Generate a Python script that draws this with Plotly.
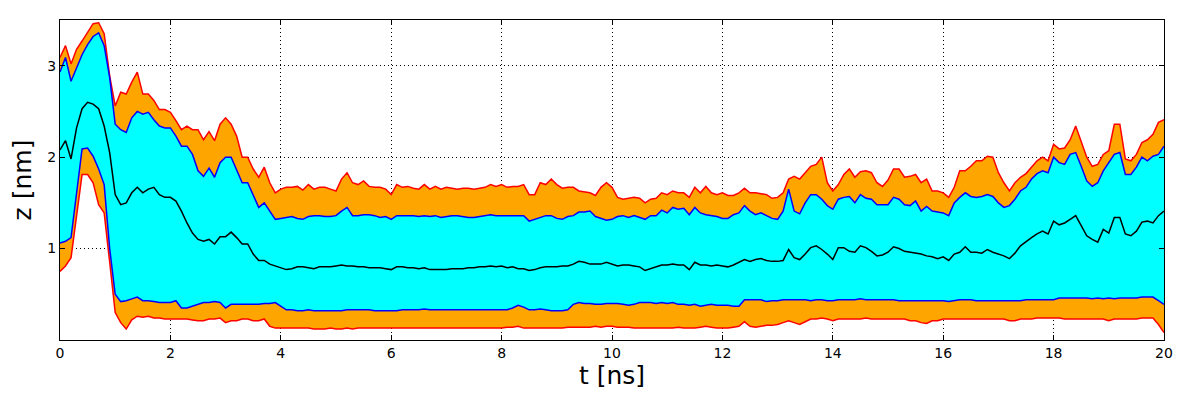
import plotly.graph_objects as go

# upper red (outer band top)
red_hi = [3.09, 3.22, 3.02, 3.18, 3.27, 3.36, 3.46, 3.47, 3.35, 2.89,
          2.56, 2.71, 2.69, 2.82, 2.93, 2.69, 2.69, 2.62, 2.52, 2.52,
          2.49, 2.40, 2.30, 2.34, 2.30, 2.30, 2.19, 2.28, 2.18, 2.36,
          2.43, 2.36, 2.23, 2.00, 2.00, 1.87, 1.78, 1.89, 1.72, 1.61,
          1.65, 1.67, 1.67, 1.68, 1.64, 1.70, 1.65, 1.67, 1.67, 1.65,
          1.63, 1.76, 1.83, 1.72, 1.70, 1.74, 1.68, 1.67, 1.67, 1.65,
          1.59, 1.70, 1.67, 1.68, 1.66, 1.65, 1.70, 1.65, 1.68, 1.65,
          1.67, 1.66, 1.65, 1.66, 1.66, 1.65, 1.66, 1.67, 1.70, 1.68,
          1.70, 1.67, 1.68, 1.68, 1.70, 1.59, 1.59, 1.72, 1.70, 1.76,
          1.70, 1.66, 1.67, 1.67, 1.63, 1.62, 1.61, 1.58, 1.67, 1.72,
          1.67, 1.56, 1.54, 1.55, 1.56, 1.55, 1.50, 1.54, 1.55, 1.61,
          1.59, 1.63, 1.61, 1.61, 1.56, 1.67, 1.61, 1.68, 1.61, 1.59,
          1.61, 1.58, 1.58, 1.61, 1.66, 1.61, 1.61, 1.60, 1.59, 1.55,
          1.56, 1.61, 1.76, 1.79, 1.76, 1.83, 1.90, 1.92, 2.00, 1.72,
          1.63, 1.70, 1.81, 1.87, 1.78, 1.84, 1.85, 1.83, 1.72, 1.68,
          1.75, 1.87, 1.87, 1.78, 1.79, 1.81, 1.72, 1.76, 1.63, 1.63,
          1.61, 1.56, 1.67, 1.85, 1.85, 1.90, 1.96, 1.96, 2.01, 2.00,
          1.83, 1.72, 1.63, 1.72, 1.78, 1.82, 1.89, 1.96, 2.00, 1.96,
          2.14, 2.09, 2.10, 2.19, 2.34, 2.18, 2.00, 1.90, 1.92, 2.03,
          2.07, 2.36, 2.36, 1.98, 1.96, 2.03, 2.16, 2.19, 2.25, 2.38,
          2.41]

# upper blue (inner band top)
blue_hi = [2.93, 3.09, 2.83, 2.98, 3.12, 3.23, 3.32, 3.36, 3.22, 2.87,
           2.36, 2.30, 2.27, 2.43, 2.50, 2.47, 2.49, 2.41, 2.34, 2.32,
           2.32, 2.23, 2.12, 2.12, 2.03, 1.85, 1.79, 1.88, 1.78, 1.94,
           2.00, 2.00, 1.85, 1.72, 1.72, 1.59, 1.45, 1.50, 1.41, 1.32,
           1.33, 1.34, 1.35, 1.33, 1.32, 1.35, 1.36, 1.36, 1.35, 1.35,
           1.36, 1.41, 1.45, 1.36, 1.36, 1.37, 1.37, 1.36, 1.34, 1.35,
           1.32, 1.36, 1.36, 1.36, 1.36, 1.35, 1.36, 1.35, 1.36, 1.34,
           1.35, 1.36, 1.36, 1.35, 1.34, 1.34, 1.35, 1.36, 1.37, 1.36,
           1.36, 1.36, 1.36, 1.36, 1.36, 1.30, 1.32, 1.34, 1.36, 1.36,
           1.33, 1.32, 1.35, 1.36, 1.40, 1.40, 1.41, 1.35, 1.33, 1.31,
           1.32, 1.35, 1.36, 1.34, 1.36, 1.34, 1.32, 1.36, 1.36, 1.42,
           1.39, 1.45, 1.43, 1.44, 1.37, 1.45, 1.39, 1.37, 1.36, 1.35,
           1.33, 1.33, 1.37, 1.39, 1.47, 1.41, 1.37, 1.39, 1.36, 1.33,
           1.32, 1.41, 1.65, 1.41, 1.38, 1.50, 1.59, 1.59, 1.54, 1.47,
           1.43, 1.54, 1.56, 1.57, 1.50, 1.59, 1.55, 1.54, 1.48, 1.48,
           1.48, 1.56, 1.54, 1.48, 1.47, 1.52, 1.41, 1.46, 1.41, 1.40,
           1.39, 1.36, 1.50, 1.56, 1.61, 1.57, 1.56, 1.57, 1.59, 1.57,
           1.50, 1.45, 1.47, 1.54, 1.63, 1.67, 1.76, 1.82, 1.85, 1.83,
           2.00, 1.94, 1.92, 2.03, 2.05, 1.90, 1.74, 1.68, 1.72, 1.85,
           1.94, 2.03, 2.05, 1.81, 1.81, 1.89, 2.00, 1.96, 2.01, 2.03,
           2.12]

# median (black)
median = [2.08, 2.18, 1.98, 2.32, 2.53, 2.60, 2.58, 2.53, 2.34, 2.05,
          1.59, 1.48, 1.50, 1.61, 1.67, 1.61, 1.65, 1.67, 1.59, 1.56,
          1.56, 1.52, 1.41, 1.28, 1.17, 1.10, 1.08, 1.10, 1.05, 1.13,
          1.13, 1.18, 1.12, 1.05, 1.05, 0.94, 0.87, 0.87, 0.83, 0.81,
          0.79, 0.77, 0.78, 0.80, 0.80, 0.79, 0.78, 0.80, 0.80, 0.80,
          0.81, 0.82, 0.81, 0.81, 0.80, 0.80, 0.79, 0.79, 0.79, 0.78,
          0.77, 0.80, 0.80, 0.79, 0.79, 0.78, 0.79, 0.77, 0.77, 0.77,
          0.77, 0.78, 0.78, 0.78, 0.79, 0.79, 0.80, 0.80, 0.81, 0.80,
          0.81, 0.79, 0.80, 0.78, 0.78, 0.76, 0.77, 0.79, 0.80, 0.80,
          0.80, 0.81, 0.81, 0.83, 0.86, 0.85, 0.83, 0.83, 0.83, 0.85,
          0.83, 0.81, 0.82, 0.82, 0.81, 0.80, 0.76, 0.78, 0.80, 0.82,
          0.82, 0.83, 0.82, 0.82, 0.77, 0.85, 0.82, 0.82, 0.81, 0.82,
          0.81, 0.80, 0.82, 0.85, 0.88, 0.86, 0.88, 0.89, 0.87, 0.86,
          0.86, 0.87, 0.99, 0.90, 0.88, 0.94, 1.01, 1.03, 0.99, 0.94,
          0.88, 1.01, 1.01, 0.97, 0.96, 1.03, 1.01, 0.97, 0.92, 0.93,
          0.96, 1.02, 1.00, 0.97, 0.96, 0.95, 0.94, 0.92, 0.91, 0.89,
          0.91, 0.87, 0.94, 0.96, 1.02, 0.96, 0.96, 0.95, 0.99, 0.96,
          0.94, 0.92, 0.89, 0.95, 1.03, 1.08, 1.12, 1.16, 1.19, 1.16,
          1.30, 1.26, 1.28, 1.32, 1.36, 1.25, 1.14, 1.10, 1.07, 1.21,
          1.17, 1.34, 1.34, 1.16, 1.14, 1.19, 1.29, 1.30, 1.28, 1.36,
          1.41]

# lower blue (inner band bottom)
blue_lo = [1.06, 1.08, 1.12, 1.59, 2.09, 2.10, 2.01, 1.87, 1.70, 1.00,
           0.50, 0.42, 0.43, 0.45, 0.47, 0.43, 0.43, 0.42, 0.41, 0.41,
           0.41, 0.43, 0.35, 0.35, 0.37, 0.39, 0.41, 0.41, 0.42, 0.41,
           0.35, 0.39, 0.39, 0.39, 0.39, 0.39, 0.39, 0.40, 0.40, 0.41,
           0.37, 0.33, 0.33, 0.32, 0.32, 0.33, 0.32, 0.32, 0.32, 0.32,
           0.32, 0.32, 0.33, 0.33, 0.33, 0.33, 0.33, 0.32, 0.32, 0.32,
           0.32, 0.32, 0.33, 0.33, 0.33, 0.33, 0.34, 0.33, 0.33, 0.33,
           0.33, 0.33, 0.33, 0.33, 0.33, 0.33, 0.33, 0.33, 0.33, 0.33,
           0.33, 0.33, 0.35, 0.38, 0.36, 0.33, 0.33, 0.34, 0.33, 0.32,
           0.32, 0.32, 0.33, 0.39, 0.41, 0.40, 0.40, 0.39, 0.39, 0.40,
           0.40, 0.40, 0.39, 0.38, 0.39, 0.41, 0.41, 0.41, 0.40, 0.41,
           0.40, 0.41, 0.39, 0.39, 0.38, 0.39, 0.37, 0.38, 0.39, 0.38,
           0.38, 0.38, 0.37, 0.37, 0.44, 0.44, 0.44, 0.44, 0.42, 0.43,
           0.43, 0.44, 0.44, 0.44, 0.44, 0.44, 0.43, 0.44, 0.44, 0.43,
           0.43, 0.44, 0.44, 0.44, 0.44, 0.45, 0.44, 0.44, 0.44, 0.44,
           0.44, 0.44, 0.43, 0.43, 0.43, 0.43, 0.43, 0.43, 0.43, 0.43,
           0.43, 0.42, 0.43, 0.44, 0.44, 0.44, 0.43, 0.43, 0.43, 0.43,
           0.43, 0.43, 0.43, 0.43, 0.43, 0.44, 0.44, 0.44, 0.44, 0.44,
           0.44, 0.46, 0.46, 0.46, 0.46, 0.46, 0.46, 0.45, 0.46, 0.45,
           0.46, 0.45, 0.46, 0.46, 0.46, 0.46, 0.47, 0.47, 0.47, 0.43,
           0.39]

# lower red (outer band bottom)
red_lo = [0.75, 0.81, 0.90, 1.37, 1.81, 1.81, 1.72, 1.48, 1.39, 0.85,
          0.30, 0.19, 0.12, 0.22, 0.26, 0.25, 0.26, 0.24, 0.24, 0.23,
          0.23, 0.23, 0.23, 0.23, 0.22, 0.21, 0.21, 0.23, 0.23, 0.24,
          0.19, 0.21, 0.21, 0.23, 0.23, 0.21, 0.21, 0.23, 0.15, 0.13,
          0.13, 0.13, 0.13, 0.13, 0.13, 0.13, 0.12, 0.12, 0.12, 0.13,
          0.12, 0.12, 0.13, 0.12, 0.13, 0.13, 0.13, 0.13, 0.13, 0.13,
          0.13, 0.13, 0.13, 0.13, 0.13, 0.13, 0.13, 0.13, 0.13, 0.13,
          0.13, 0.13, 0.13, 0.13, 0.13, 0.13, 0.13, 0.13, 0.13, 0.13,
          0.13, 0.14, 0.14, 0.15, 0.13, 0.13, 0.13, 0.13, 0.13, 0.13,
          0.13, 0.13, 0.14, 0.14, 0.14, 0.14, 0.14, 0.15, 0.14, 0.15,
          0.15, 0.14, 0.14, 0.14, 0.13, 0.13, 0.13, 0.13, 0.13, 0.13,
          0.13, 0.13, 0.14, 0.13, 0.13, 0.13, 0.14, 0.15, 0.14, 0.13,
          0.13, 0.13, 0.14, 0.15, 0.20, 0.15, 0.14, 0.15, 0.16, 0.16,
          0.17, 0.19, 0.21, 0.19, 0.17, 0.20, 0.23, 0.23, 0.24, 0.23,
          0.21, 0.23, 0.23, 0.23, 0.23, 0.23, 0.24, 0.23, 0.23, 0.23,
          0.23, 0.23, 0.23, 0.23, 0.21, 0.21, 0.19, 0.18, 0.21, 0.21,
          0.23, 0.23, 0.23, 0.23, 0.23, 0.23, 0.23, 0.23, 0.23, 0.23,
          0.23, 0.23, 0.21, 0.21, 0.23, 0.23, 0.23, 0.24, 0.24, 0.24,
          0.24, 0.24, 0.23, 0.23, 0.23, 0.23, 0.23, 0.23, 0.23, 0.23,
          0.21, 0.23, 0.23, 0.23, 0.23, 0.23, 0.24, 0.24, 0.24, 0.17,
          0.08]

t = [round(i * 0.1, 1) for i in range(len(median))]

x_ticks = [0, 2, 4, 6, 8, 10, 12, 14, 16, 18, 20]
y_ticks = [1, 2, 3]

FONT = "DejaVu Sans"
fig = go.Figure()

# filled bands (no edges)
fig.add_trace(go.Scatter(x=t, y=red_lo, mode="lines", line=dict(width=0), showlegend=False, hoverinfo="skip"))
fig.add_trace(go.Scatter(x=t, y=red_hi, mode="lines", line=dict(width=0), fill="tonexty",
                         fillcolor="#FFA500", showlegend=False, hoverinfo="skip"))
fig.add_trace(go.Scatter(x=t, y=blue_lo, mode="lines", line=dict(width=0), showlegend=False, hoverinfo="skip"))
fig.add_trace(go.Scatter(x=t, y=blue_hi, mode="lines", line=dict(width=0), fill="tonexty",
                         fillcolor="#00FFFF", showlegend=False, hoverinfo="skip"))

# edges
for series, color in [(red_lo, "#FF0000"), (red_hi, "#FF0000"),
                      (blue_lo, "#0000FF"), (blue_hi, "#0000FF"),
                      (median, "#000000")]:
    fig.add_trace(go.Scatter(x=t, y=series, mode="lines",
                             line=dict(color=color, width=1.5), showlegend=False))

axis_common = dict(showline=True, linecolor="black", linewidth=1, mirror="ticks",
                   ticks="inside", ticklen=5, tickcolor="black", tickwidth=1,
                   showgrid=True, gridcolor="black", griddash="1px,3px", gridwidth=0.8,
                   zeroline=False, automargin=False,
                   tickfont=dict(family=FONT, size=14, color="black"))

# the page body adds an 8px offset; margins compensate so the plot area sits at
# x 60..1164, y 20..340 in the 1200x400 window
fig.update_layout(
    width=1200, height=400,
    margin=dict(l=52, r=44, t=12, b=68),
    paper_bgcolor="white", plot_bgcolor="white",
    xaxis=dict(range=[0, 20], tickvals=x_ticks, ticktext=[str(v) for v in x_ticks],
               title=dict(text="t [ns]", font=dict(family=FONT, size=25, color="black"), standoff=4),
               **axis_common),
    yaxis=dict(range=[0, 3.5], tickvals=y_ticks, ticktext=[str(v) for v in y_ticks],
               title=dict(text="z [nm]", font=dict(family=FONT, size=25, color="black"), standoff=8),
               **axis_common),
)

fig.write_html("out.html")
